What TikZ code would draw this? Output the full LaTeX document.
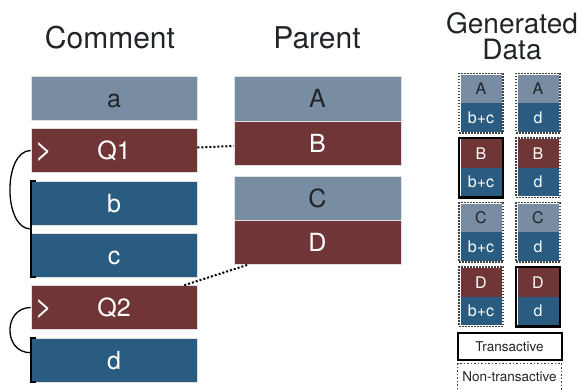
\documentclass[tikz,border=0pt]{standalone}
\usepackage{fontspec}
\setmainfont{TeX Gyre Heros}
\usetikzlibrary{calc}
\definecolor{slategray}{RGB}{120,141,162}
\definecolor{darkred}{RGB}{112,53,54}
\definecolor{steelblue}{RGB}{42,91,128}
\definecolor{inkdark}{RGB}{33,37,41}

\tikzset{
  bigbox/.style={minimum width=166pt,minimum height=44pt,inner sep=0pt,text height=18pt,text depth=0pt,font=\fontsize{25}{30}\selectfont,draw=black!12,line width=0.6pt},
  graybox/.style={bigbox,fill=slategray,text=inkdark},
  redbox/.style={bigbox,fill=darkred,text=white},
  bluebox/.style={bigbox,fill=steelblue,text=white},
  chevron/.style={text=white,inner sep=0pt,font=\fontsize{30}{30}\selectfont},
  cell/.style={minimum width=41pt,minimum height=28.5pt,inner sep=0pt,text height=11.5pt,text depth=0pt,font=\fontsize{16}{18}\selectfont},
  graycell/.style={cell,fill=slategray,text=inkdark},
  redcell/.style={cell,fill=darkred,text=white},
  bluecell/.style={cell,fill=steelblue,text=white},
  frame/.style={minimum width=44pt,minimum height=59.5pt,inner sep=0pt},
  dotframe/.style={frame,draw=black!75,line width=1.5pt,dash pattern=on 1.5pt off 1.5pt},
  thickframe/.style={frame,draw=black,line width=2.5pt},
  title/.style={anchor=base,text=inkdark,font=\fontsize{30}{30}\selectfont},
  link/.style={line width=2pt,dash pattern=on 2pt off 2pt},
  bracket/.style={line width=1.8pt},
  hook/.style={line width=1.3pt}
}

\begin{document}
\begin{tikzpicture}[x=1pt,y=-1pt]
	\useasboundingbox (0,0) rectangle (584,389);
	\clip (0,0) rectangle (584,389);
	% titles
	\node[title] (tcomment) at (110,48) {Comment};
	\node[title] (tparent) at (317,48) {Parent};
	\node[text=inkdark,align=center,font=\fontsize{28}{26}\selectfont] (tgen) at (512,36) {Generated\\Data};

	% comment column
	\node[graybox] (a) at (114,98.5) {a};
	\node[redbox] (Q1) at (114,150.5) {Q1};
	\node[bluebox] (b) at (114,203) {b};
	\node[bluebox] (c) at (114,255) {c};
	\node[redbox] (Q2) at (114,307.5) {Q2};
	\node[bluebox] (d) at (114,360) {d};
	\node[chevron] (gt1) at ([xshift=13pt,yshift=-1pt]Q1.west) {>};
	\node[chevron] (gt2) at ([xshift=13pt,yshift=-1pt]Q2.west) {>};

	% parent column
	\node[graybox,minimum width=167pt,minimum height=45pt] (A) at (317.5,98.5) {A};
	\node[redbox,minimum width=167pt] (B) at (317.5,143) {B};
	\node[graybox,minimum width=167pt] (C) at (317.5,198) {C};
	\node[redbox,minimum width=167pt] (D) at (317.5,242.5) {D};

	% brackets
	\coordinate (m1) at ($(b.south west)!0.5!(c.north west)$);
	\coordinate (m2) at ([yshift=-15pt]d.north west);
	\draw[bracket] ([xshift=5pt]b.north west) -- (b.north west) -- (c.south west) -- ([xshift=5pt]c.south west);
	\draw[bracket] ([xshift=5pt]d.north west) -- (d.north west) -- (d.south west) -- ([xshift=5pt]d.south west);
	\draw[hook] (Q1.west) .. controls (3,150.5) and (3,229) .. (m1);
	\draw[hook] (Q2.west) .. controls (3,307.5) and (3,353) .. (m2);

	% links to parents
	\draw[link] ([yshift=3pt]Q1.east) -- ([yshift=-3pt]B.west);
	\draw[link] ([xshift=-13pt]Q2.north east) -- ([xshift=14pt]D.south west);

	% generated data
	\node[dotframe] (fA1) at (481,103) {};
	\node[graycell] (fA1t) at ([yshift=14.25pt]fA1.center) {A};
	\node[bluecell] (fA1b) at ([yshift=-14.25pt]fA1.center) {b+c};
	\node[dotframe] (fA2) at (538,103) {};
	\node[graycell] (fA2t) at ([yshift=14.25pt]fA2.center) {A};
	\node[bluecell] (fA2b) at ([yshift=-14.25pt]fA2.center) {d};

	\node[thickframe] (fB1) at (481,167.5) {};
	\node[redcell] (fB1t) at ([yshift=14.25pt]fB1.center) {B};
	\node[bluecell] (fB1b) at ([yshift=-14.25pt]fB1.center) {b+c};
	\node[dotframe] (fB2) at (538,167.5) {};
	\node[redcell] (fB2t) at ([yshift=14.25pt]fB2.center) {B};
	\node[bluecell] (fB2b) at ([yshift=-14.25pt]fB2.center) {d};

	\node[dotframe] (fC1) at (481,232.3) {};
	\node[graycell] (fC1t) at ([yshift=14.25pt]fC1.center) {C};
	\node[bluecell] (fC1b) at ([yshift=-14.25pt]fC1.center) {b+c};
	\node[dotframe] (fC2) at (538,232.3) {};
	\node[graycell] (fC2t) at ([yshift=14.25pt]fC2.center) {C};
	\node[bluecell] (fC2b) at ([yshift=-14.25pt]fC2.center) {d};

	\node[dotframe] (fD1) at (481,296.7) {};
	\node[redcell] (fD1t) at ([yshift=14.25pt]fD1.center) {D};
	\node[bluecell] (fD1b) at ([yshift=-14.25pt]fD1.center) {b+c};
	\node[thickframe] (fD2) at (538,296.7) {};
	\node[redcell] (fD2t) at ([yshift=14.25pt]fD2.center) {D};
	\node[bluecell] (fD2b) at ([yshift=-14.25pt]fD2.center) {d};

	% legend
	\node[draw=black,line width=2pt,minimum width=104pt,minimum height=27pt,text=inkdark,font=\fontsize{13.5}{15}\selectfont] (ltrans) at (509.5,346.5) {Transactive};
	\node[draw=black!75,line width=1.5pt,dash pattern=on 1.5pt off 2pt,minimum width=104pt,minimum height=27pt,text=inkdark,font=\fontsize{13.5}{15}\selectfont] (lnon) at (509.5,377) {Non-transactive};
\end{tikzpicture}
\end{document}
